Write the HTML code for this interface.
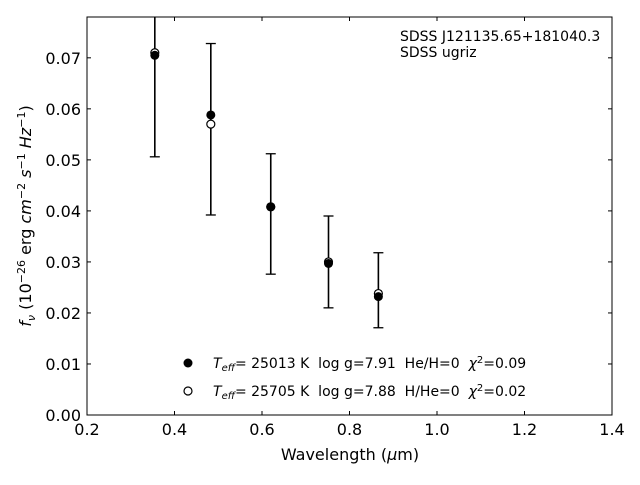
<!DOCTYPE html>
<html><head><meta charset="utf-8"><style>
body{margin:0;background:#fff}
svg{font-family:"DejaVu Sans","Liberation Sans",sans-serif}
text{white-space:pre}
</style></head><body>
<svg id="c" width="640" height="480">
<rect x="87" y="17" width="525" height="398" fill="none" stroke="#000" stroke-width="1"/>
<g id="ticks"></g><g id="marks"></g>
<text x="400" y="41" font-size="14">SDSS J121135.65+181040.3</text>
<text x="400" y="57" font-size="14">SDSS ugriz</text>
<text x="350" y="460" font-size="16" text-anchor="middle">Wavelength (<tspan font-style="italic">μ</tspan>m)</text>
<text transform="translate(31,216) rotate(-90)" font-size="16" text-anchor="middle"><tspan font-style="italic">f<tspan font-size="11" dy="4">ν</tspan></tspan><tspan dy="-4"> (10</tspan><tspan font-size="11" dy="-6">−26</tspan><tspan dy="6"> erg </tspan><tspan font-style="italic">cm</tspan><tspan font-size="11" dy="-6">−2</tspan><tspan dy="6" font-style="italic"> s</tspan><tspan font-size="11" dy="-6">−1</tspan><tspan dy="6" font-style="italic"> Hz</tspan><tspan font-size="11" dy="-6">−1</tspan><tspan dy="6">)</tspan></text>
<g>
<circle cx="188" cy="363" r="4.5" fill="#000"/>
<text x="213" y="368" font-size="14"><tspan font-style="italic">T</tspan><tspan font-size="10" dy="3" font-style="italic">eff</tspan><tspan dy="-3">= 25013 K  log g=7.91  He/H=0  </tspan><tspan font-style="italic">χ</tspan><tspan font-size="10" dy="-5">2</tspan><tspan dy="5">=0.09</tspan></text>
<circle cx="188" cy="391" r="4" fill="#fff" stroke="#000" stroke-width="1.2"/>
<text x="213" y="396" font-size="14"><tspan font-style="italic">T</tspan><tspan font-size="10" dy="3" font-style="italic">eff</tspan><tspan dy="-3">= 25705 K  log g=7.88  H/He=0  </tspan><tspan font-style="italic">χ</tspan><tspan font-size="10" dy="-5">2</tspan><tspan dy="5">=0.02</tspan></text>
</g>
</svg>
<script>
const wavelengths=[0.355,0.483,0.620,0.752,0.866];
const fluxFit1=[0.0705,0.0588,0.0408,0.0297,0.0232];
const fluxFit2=[0.0710,0.0570,0.0408,0.0300,0.0238];
const errLow=[0.0506,0.0392,0.0276,0.0210,0.0171];
const errHigh=[0.0800,0.0728,0.0512,0.0390,0.0318];
const xTicks=["0.2","0.4","0.6","0.8","1.0","1.2","1.4"];
const yTicks=["0.00","0.01","0.02","0.03","0.04","0.05","0.06","0.07"];
const X0=87,X1=612,Y0=415,Y1=17,xmin=0.2,xmax=1.4,ymin=0,ymax=0.078;
const sx=v=>X0+(v-xmin)/(xmax-xmin)*(X1-X0);
const sy=v=>Y0-(v-ymin)/(ymax-ymin)*(Y0-Y1);
const NS="http://www.w3.org/2000/svg";
function mk(t,a,p){const e=document.createElementNS(NS,t);for(const k in a)e.setAttribute(k,a[k]);p.appendChild(e);return e;}
const T=document.getElementById('ticks'),M=document.getElementById('marks');
xTicks.forEach(s=>{const x=sx(parseFloat(s));
 let l=mk('line',{x1:x,x2:x,y1:Y0,y2:Y0-4,stroke:'#000'},T);
 
 
 let l2=mk('line',{x1:x,x2:x,y1:Y1,y2:Y1+4,stroke:'#000'},T);
 
 
 let t=mk('text',{x:x,y:Y0+20,'font-size':16,'text-anchor':'middle'},T);t.textContent=s;
 
 });
yTicks.forEach(s=>{const y=sy(parseFloat(s));
 let l=mk('line',{x1:X0,x2:X0+4,y1:y,y2:y,stroke:'#000'},T);
 
 
 let l2=mk('line',{x1:X1,x2:X1-4,y1:y,y2:y,stroke:'#000'},T);
 
 
 let t=mk('text',{x:X0-6,y:y+6,'font-size':16,'text-anchor':'end'},T);t.textContent=s;
 
 });
const clip=v=>Math.max(Y1,Math.min(Y0,v));
wavelengths.forEach((w,i)=>{const x=sx(w);
 const g=mk('g',{},M);
 
 
 const yh=clip(sy(errHigh[i])),yl=sy(errLow[i]);
 mk('line',{x1:x,x2:x,y1:yh,y2:yl,stroke:'#000','stroke-width':1.6},g);
 if(sy(errHigh[i])>=Y1) mk('line',{x1:x-5,x2:x+5,y1:yh,y2:yh,stroke:'#000','stroke-width':1.3},g);
 mk('line',{x1:x-5,x2:x+5,y1:yl,y2:yl,stroke:'#000','stroke-width':1.3},g);
 const c2=mk('circle',{cx:x,cy:sy(fluxFit2[i]),r:4,fill:'#fff',stroke:'#000','stroke-width':1.2},M);
 
 
 const c1=mk('circle',{cx:x,cy:sy(fluxFit1[i]),r:4.5,fill:'#000'},M);
 
 
});
</script>
</body></html>
